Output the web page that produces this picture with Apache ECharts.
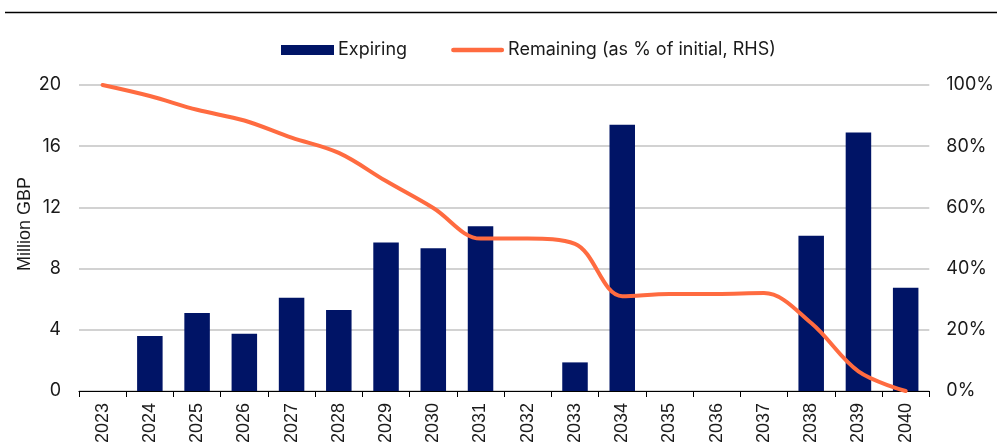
<!DOCTYPE html>
<html>
<head>
<meta charset="utf-8">
<script src="https://cdn.jsdelivr.net/npm/echarts@6/dist/echarts.min.js"></script>
<style>
html,body{margin:0;padding:0;background:#fff;}
#chart{width:997px;height:448px;}
</style>
</head>
<body>
<div id="chart"></div>
<script>
const categories = ['2023','2024','2025','2026','2027','2028','2029','2030','2031','2032','2033','2034','2035','2036','2037','2038','2039','2040'];
const expiring = [0, 3.6, 5.1, 3.75, 6.1, 5.3, 9.7, 9.33, 10.76, 0, 1.87, 17.4, 0, 0, 0, 10.15, 16.9, 6.75];
const remaining = [100, 96.4, 91.9, 88.4, 82.8, 77.8, 68.6, 59.8, 49.8, 49.8, 48.1, 31.0, 31.7, 31.7, 32.0, 22.2, 6.4, 0];
const leftTicks = {min: 0, max: 20, interval: 4};
const rightTicks = {min: 0, max: 100, interval: 20};

const chart = echarts.init(document.getElementById('chart'), null, {renderer: 'canvas'});
const labelFont = 'Inter, "Liberation Sans", Arial, sans-serif';
const arialFont = '"Liberation Sans", Arial, sans-serif';

chart.setOption({
  animation: false,
  backgroundColor: '#ffffff',
  grid: {left: 79, right: 66, top: 85, bottom: 57, containLabel: false},
  legend: {
    left: 276, top: 36,
    itemWidth: 53, itemHeight: 10, itemGap: 44,
    textStyle: {fontFamily: labelFont, fontSize: 18, color: '#1a1a1a', padding: [0, 0, 0, -1]},
    data: [
      {name: 'Expiring', icon: 'rect'},
      {name: 'Remaining (as % of initial, RHS)', icon: 'path://M2.5,0 L53.5,0 A2.5,2.5 0 0 1 53.5,5 L2.5,5 A2.5,2.5 0 0 1 2.5,0 Z'}
    ]
  },
  graphic: [
    {type: 'line', shape: {x1: 5, y1: 12.5, x2: 997, y2: 12.5}, style: {stroke: '#000', lineWidth: 1.5}},
    {type: 'text', x: 25, y: 224, rotation: Math.PI / 2,
     style: {text: 'Million GBP', font: '18px "Liberation Sans", Arial, sans-serif', fill: '#1a1a1a', textAlign: 'center', textVerticalAlign: 'middle'}}
  ],
  xAxis: {
    type: 'category',
    data: categories,
    boundaryGap: true,
    axisLine: {show: true, lineStyle: {color: '#000', width: 1.2}},
    axisTick: {show: true, length: 6, lineStyle: {color: '#000'}},
    axisLabel: {rotate: 90, margin: 12, fontFamily: arialFont, fontSize: 18, color: '#1a1a1a', interval: 0},
    splitLine: {show: false}
  },
  yAxis: [
    {
      type: 'value', min: leftTicks.min, max: leftTicks.max, interval: leftTicks.interval,
      axisLine: {show: false}, axisTick: {show: false},
      axisLabel: {margin: 18, fontFamily: labelFont, fontSize: 18, color: '#1a1a1a'},
      splitLine: {show: true, lineStyle: {color: '#d2d2d2', width: 2}}
    },
    {
      type: 'value', min: rightTicks.min, max: rightTicks.max, interval: rightTicks.interval,
      axisLine: {show: false}, axisTick: {show: false},
      axisLabel: {margin: 17, fontFamily: labelFont, fontSize: 18, color: '#1a1a1a', formatter: '{value}%'},
      splitLine: {show: false}
    }
  ],
  series: [
    {
      name: 'Expiring', type: 'bar', yAxisIndex: 0, data: expiring,
      barWidth: '54%',
      itemStyle: {color: '#001466', borderWidth: 0}
    },
    {
      name: 'Remaining (as % of initial, RHS)', type: 'line', yAxisIndex: 1, data: remaining,
      smooth: 0.35, symbol: 'none', showSymbol: false,
      lineStyle: {color: '#FF6B40', width: 4, cap: 'round'},
      itemStyle: {color: '#FF6B40'},
      z: 5
    }
  ]
});
</script>
</body>
</html>
